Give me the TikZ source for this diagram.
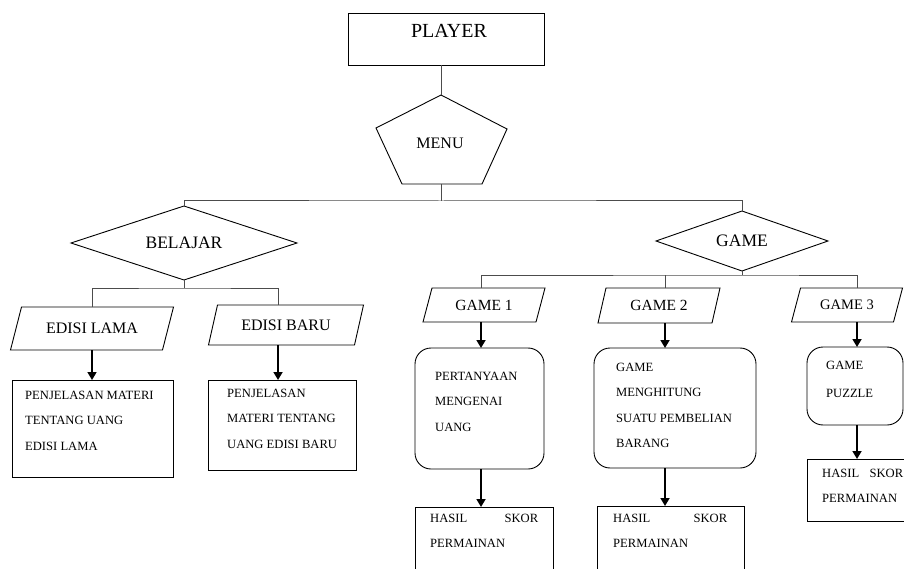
\documentclass[tikz,border=0pt]{standalone}
\usepackage{fontspec}
\setmainfont{Liberation Serif}
\usetikzlibrary{shapes.geometric,arrows.meta,calc}
\newcommand{\drawpara}[2]{\draw[shp] ($(#1.north west)+(#2,0)$) -- ($(#1.north east)+(#2,0)$) -- ($(#1.south east)+(-#2,0)$) -- ($(#1.south west)+(-#2,0)$) -- cycle;}
\begin{document}
\begin{tikzpicture}[x=1pt,y=-1pt,
  shp/.style={draw=black, line width=0.9pt},
  conn/.style={draw=black!70, line width=1pt},
  arr/.style={draw=black, line width=1.7pt, -{Triangle[width=9pt,length=8pt]}},
  box/.style={shp, rectangle, inner sep=0pt, outer sep=0pt},
  rbox/.style={shp, rectangle, rounded corners=16pt, inner sep=0pt, outer sep=0pt},
  paranode/.style={rectangle, inner sep=0pt, outer sep=0pt},
  dia/.style={shp, diamond, inner sep=0pt, outer sep=0pt},
  small/.style={font=\fontsize{12.6}{25.3}\selectfont, align=left, inner sep=0pt, anchor=north west},
]
\clip (0,0) rectangle (904,569);
\fill[white] (0,0) rectangle (904,569);

% PLAYER
\node[box, minimum width=196pt, minimum height=52pt] (player) at (446,39) {};
\node[font=\fontsize{20}{20}\selectfont] (playerlbl) at (449,31) {PLAYER};

% MENU pentagon
\coordinate (mt) at (441,95);
\coordinate (mb) at (441,184);
\draw[shp] (mt) -- (507,129) -- (482,184) -- (402,184) -- (376,128) -- cycle;
\node[font=\fontsize{16}{16}\selectfont] (menu) at (440,143) {MENU};
\draw[conn] (player.south -| mt) -- (mt);

% Level 1
\node[dia, aspect=3.05, minimum width=226pt, minimum height=74pt, font=\fontsize{17.5}{17.5}\selectfont] (bel) at (184,243) {BELAJAR};
\node[dia, aspect=2.87, minimum width=172pt, minimum height=60pt, font=\fontsize{17.5}{17.5}\selectfont] (game) at (742,241) {GAME};
\coordinate (bus1) at (441,201);
\draw[conn] (mb) -- (bus1);
\draw[conn] (bel.north) |- (bus1) -| (game.north);

% BELAJAR branch
\node[paranode, minimum width=152pt, minimum height=43pt, font=\fontsize{16}{16}\selectfont] (lama) at (92,328.5) {EDISI LAMA};
\drawpara{lama}{5.5}
\node[paranode, minimum width=146pt, minimum height=40pt, font=\fontsize{16}{16}\selectfont] (baru) at (286,325) {EDISI BARU};
\drawpara{baru}{4.5}
\coordinate (bus2) at (184,288);
\draw[conn] (bel.south) -- (bus2);
\draw[conn] (lama.north) |- (bus2) -| ([xshift=-8pt]baru.north);

\node[box, minimum width=161pt, minimum height=97pt] (box1) at (92.5,428.5) {};
\node[small] (t1) at (25,391) {PENJELASAN MATERI\\TENTANG UANG\\EDISI LAMA};
\node[box, minimum width=148pt, minimum height=90pt] (box2) at (282,425) {};
\node[small] (t2) at (227,389) {PENJELASAN\\MATERI TENTANG\\UANG EDISI BARU};
\draw[arr] (lama.south) -- (lama.south |- box1.north);
\draw[arr] ([xshift=-8pt]baru.south) -- ([xshift=-8pt]baru.south |- box2.north);

% GAME branch
\node[paranode, minimum width=113pt, minimum height=34pt, font=\fontsize{15.5}{15.5}\selectfont] (g1) at (484,305) {GAME 1};
\drawpara{g1}{4.5}
\node[paranode, minimum width=114pt, minimum height=35pt, font=\fontsize{15.5}{15.5}\selectfont] (g2) at (659,305.5) {GAME 2};
\drawpara{g2}{4}
\node[paranode, minimum width=102pt, minimum height=34pt, font=\fontsize{14.5}{14.5}\selectfont] (g3) at (847,305) {GAME 3};
\drawpara{g3}{4.5}
\coordinate (bus3) at (742,275);
\draw[conn] (game.south) -- (bus3);
\draw[conn] ([xshift=-3pt]g1.north) |- (bus3) -| ([xshift=10pt]g3.north);
\draw[conn] ([xshift=6pt]g2.north) -- ([xshift=6pt]g2.north |- bus3);

\node[rbox, minimum width=129pt, minimum height=121pt] (r1) at (479.5,408.5) {};
\node[small] (t3) at (435,372) {PERTANYAAN\\MENGENAI\\UANG};
\node[rbox, minimum width=162pt, minimum height=120pt] (r2) at (675,408) {};
\node[small] (t4) at (616,363) {GAME\\MENGHITUNG\\SUATU PEMBELIAN\\BARANG};
\node[rbox, minimum width=96pt, minimum height=78pt] (r3) at (855,386) {};
\node[small, font=\fontsize{12.6}{28}\selectfont] (t5) at (826,361) {GAME\\PUZZLE};

\draw[arr] ([xshift=-3pt]g1.south) -- ([xshift=-3pt]g1.south |- r1.north);
\draw[arr] ([xshift=6pt]g2.south) -- ([xshift=6pt]g2.south |- r2.north);
\draw[arr] ([xshift=10pt]g3.south) -- ([xshift=10pt]g3.south |- r3.north);

\node[box, minimum width=138pt, minimum height=92pt] (h1) at (484,553) {};
\node[small] (t6) at (430,514) {\makebox[108pt][l]{HASIL\hfill SKOR}\\PERMAINAN};
\node[box, minimum width=147pt, minimum height=94pt] (h2) at (670.5,553) {};
\node[small] (t7) at (613,514) {\makebox[114pt][l]{HASIL\hfill SKOR}\\PERMAINAN};
\node[box, minimum width=99pt, minimum height=62pt] (h3) at (856.5,490) {};
\node[small] (t8) at (822,469) {\makebox[81pt][l]{HASIL\hfill SKOR}\\PERMAINAN};

\draw[arr] ([xshift=1.5pt]r1.south) -- ([xshift=1.5pt]r1.south |- h1.north);
\draw[arr] ([xshift=-10pt]r2.south) -- ([xshift=-10pt]r2.south |- h2.north);
\draw[arr] ([xshift=2pt]r3.south) -- ([xshift=2pt]r3.south |- h3.north);
\end{tikzpicture}
\end{document}
